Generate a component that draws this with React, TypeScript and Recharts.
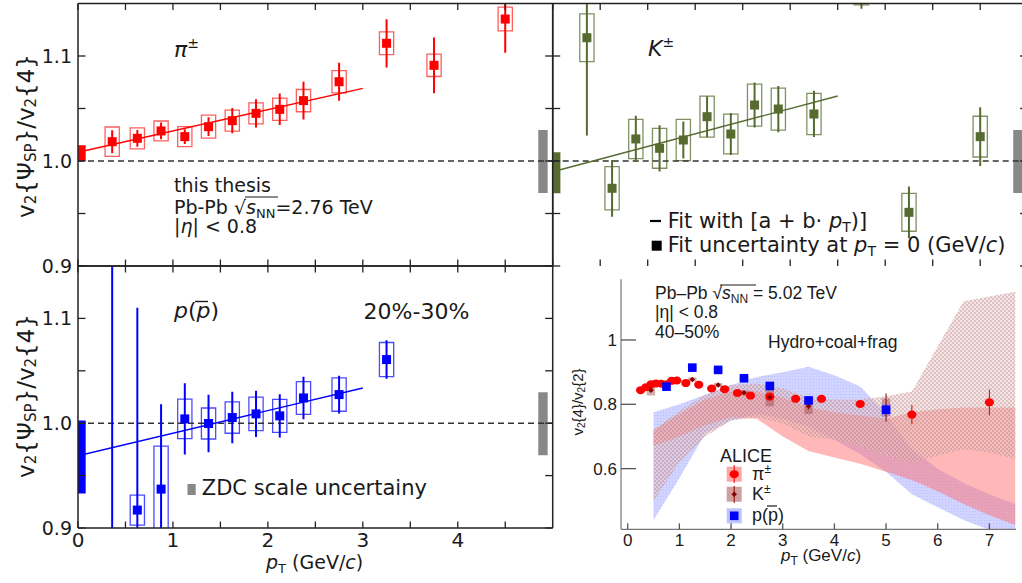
import React from 'react';
import {
  Area,
  ComposedChart,
  ErrorBar,
  Line,
  ReferenceArea,
  ReferenceLine,
  Scatter,
  XAxis,
  YAxis,
} from 'recharts';

const SANS = '"DejaVu Sans", sans-serif';
const HELV = '"Liberation Sans", Arial, sans-serif';
const INK = '#1a1a1a';

// ---- this thesis: Pb-Pb 2.76 TeV, 20-30%, v2{SP}/v2{4} ----
const ptBins = [0.36, 0.625, 0.875, 1.125, 1.375, 1.625, 1.875, 2.125, 2.375, 2.75, 3.25, 3.75, 4.5];
const piRatio = [1.0184, 1.0216, 1.0286, 1.0232, 1.0327, 1.0384, 1.0454, 1.0492, 1.0575, 1.0755, 1.1121, 1.0911, 1.1352];
const piStat = [0.011, 0.008, 0.008, 0.007, 0.009, 0.012, 0.0135, 0.015, 0.018, 0.018, 0.023, 0.0265, 0.032];
const piSys = [0.014, 0.01, 0.0095, 0.0095, 0.011, 0.01, 0.01, 0.0106, 0.0106, 0.0106, 0.0108, 0.0106, 0.0113];

const kRatio = [1.1174, 0.974, 1.021, 1.0121, 1.02, 1.0422, 1.0257, 1.0533, 1.0495, 1.0448, 1.169, 0.9511, 1.0232];
const kStat = [0.093, 0.027, 0.022, 0.022, 0.0176, 0.0195, 0.02, 0.0214, 0.022, 0.022, 0.024, 0.0246, 0.028];
const kSys = [0.0227, 0.0206, 0.0187, 0.019, 0.0197, 0.0195, 0.019, 0.02, 0.02, 0.0197, 0.0204, 0.018, 0.0194];

const pBins = [0.36, 0.625, 0.875, 1.125, 1.375, 1.625, 1.875, 2.125, 2.375, 2.75, 3.25];
const pRatio = [0.86, 0.9171, 0.9371, 1.0041, 0.9997, 1.0054, 1.0089, 1.007, 1.0241, 1.0273, 1.0607];
const pStat = [0.32, 0.193, 0.081, 0.034, 0.0275, 0.0246, 0.022, 0.0206, 0.0203, 0.018, 0.0184];
const pSys = [0, 0.0143, 0.041, 0.0189, 0.0148, 0.015, 0.016, 0.0157, 0.0156, 0.0159, 0.0163];

// linear fits a + b*pT, drawn 0..3 GeV/c
const fitPt = [0, 3];
const piFit = [1.0083, 1.0692];
const kFit = [0.9898, 1.0619];
const pFit = [0.9689, 1.0336];
const piFitUnc = [1.0, 1.015];
const kFitUnc = [0.9692, 1.0083];
const pFitUnc = [0.933, 1.0026];
const zdcUnc = [0.9695, 1.0295];

const ratioTicks = [0.9, 0.95, 1.0, 1.05, 1.1];
const ratioLabels = ['0.9', '', '1.0', '', '1.1'];
const ptTicks = [0, 0.5, 1, 1.5, 2, 2.5, 3, 3.5, 4, 4.5];
const ptLabels = ['0', '', '1', '', '2', '', '3', '', '4', ''];

// ---- ALICE inset: Pb-Pb 5.02 TeV, 40-50%, v2{4}/v2{2} ----
const alicePiPt = [0.25, 0.35, 0.45, 0.55, 0.65, 0.75, 0.85, 0.95, 1.125, 1.375, 1.625, 1.875, 2.125, 2.375, 2.75, 3.25, 3.75, 4.5, 5.5, 7.0];
const alicePi = [0.844, 0.853, 0.862, 0.865, 0.864, 0.862, 0.873, 0.874, 0.866, 0.861, 0.849, 0.847, 0.835, 0.827, 0.824, 0.817, 0.817, 0.801, 0.768, 0.806];
const alicePiErr = [0.002, 0.002, 0.002, 0.002, 0.002, 0.002, 0.002, 0.002, 0.002, 0.003, 0.003, 0.003, 0.003, 0.004, 0.004, 0.005, 0.006, 0.008, 0.03, 0.04];

const aliceKPt = [0.45, 1.25, 1.75, 2.25, 2.75, 3.5, 5.0];
const aliceK = [0.844, 0.877, 0.86, 0.836, 0.822, 0.794, 0.79];
const aliceKErr = [0.003, 0.004, 0.004, 0.004, 0.006, 0.01, 0.044];
const aliceKSys = [0.017, 0.006, 0.006, 0.008, 0.028, 0.024, 0.028];

const alicePPt = [0.75, 1.25, 1.75, 2.25, 2.75, 3.5, 5.0];
const aliceP = [0.855, 0.914, 0.907, 0.881, 0.857, 0.812, 0.783];
const alicePSys = [0.014, 0.005, 0.005, 0.005, 0.006, 0.008, 0.02];

// Hydro+coal+frag bands
const hydroPt = [0.5, 1.0, 1.5, 2.0, 2.5, 3.0, 3.5, 4.0, 4.5, 5.0, 5.5, 6.0, 6.5, 7.0, 7.5];
const hydroPiLo = [0.67, 0.7, 0.735, 0.76, 0.755, 0.7, 0.655, 0.635, 0.615, 0.59, 0.565, 0.53, 0.49, 0.455, 0.425];
const hydroPiHi = [0.72, 0.77, 0.815, 0.84, 0.84, 0.82, 0.79, 0.775, 0.765, 0.755, 0.775, 0.785, 0.79, 0.79, 0.79];
const hydroKLo = [0.5, 0.62, 0.7, 0.75, 0.76, 0.74, 0.7, 0.69, 0.67, 0.64, 0.62, 0.64, 0.66, 0.65, 0.63];
const hydroKHi = [0.72, 0.78, 0.83, 0.86, 0.865, 0.85, 0.82, 0.815, 0.815, 0.825, 0.84, 0.98, 1.12, 1.135, 1.15];
const hydroPLo = [0.44, 0.57, 0.71, 0.75, 0.77, 0.755, 0.73, 0.69, 0.645, 0.59, 0.52, 0.48, 0.44, 0.41, 0.38];
const hydroPHi = [0.775, 0.8, 0.83, 0.86, 0.885, 0.9, 0.917, 0.89, 0.855, 0.77, 0.66, 0.6, 0.555, 0.52, 0.49];

const alicePtTicks = [0, 1, 2, 3, 4, 5, 6, 7];
const alicePtLabels = ['0', '1', '2', '3', '4', '5', '6', '7'];
const aliceYTicks = [0.6, 0.8, 1];
const aliceYLabels = ['0.6', '0.8', '1'];

type TickCfg = {
  values: number[];
  labels?: string[];
  len: number;
  size?: number;
  font?: string;
  gap?: number;
  color?: string;
};

const findLabel = (c: TickCfg, v: number) => {
  if (!c.labels) return '';
  const i = c.values.findIndex((t) => Math.abs(t - v) < 1e-6);
  return i < 0 ? '' : c.labels[i];
};

const yTick = (side: 'left' | 'right', c: TickCfg) => (props: any) => {
  const { x, y, payload } = props;
  const d = side === 'left' ? 1 : -1;
  const label = findLabel(c, payload.value);
  return (
    <g>
      <line x1={x} x2={x + d * c.len} y1={y} y2={y} stroke={c.color ?? '#222'} strokeWidth={1.3} />
      {label ? (
        <text x={x - (c.gap ?? 6)} y={y} dy="0.36em" textAnchor="end" fontFamily={c.font} fontSize={c.size} fill={INK}>
          {label}
        </text>
      ) : null}
    </g>
  );
};

const xTick = (side: 'bottom' | 'top', c: TickCfg) => (props: any) => {
  const { x, y, payload } = props;
  const d = side === 'bottom' ? -1 : 1;
  const label = findLabel(c, payload.value);
  return (
    <g>
      <line x1={x} x2={x} y1={y} y2={y + d * c.len} stroke={c.color ?? '#222'} strokeWidth={1.3} />
      {label ? (
        <text x={x} y={y + (c.gap ?? 18)} textAnchor="middle" fontFamily={c.font} fontSize={c.size} fill={INK}>
          {label}
        </text>
      ) : null}
    </g>
  );
};

const FRAME = { stroke: '#222', strokeWidth: 1.5 };

type PanelProps = {
  left: number;
  top: number;
  width: number;
  height: number;
  leftW: number;
  rightW: number;
  topH: number;
  bottomH: number;
  color: string;
  boxColor: string;
  pts: number[];
  vals: number[];
  stat: number[];
  sys: number[];
  fit: number[];
  fitUnc: number[];
  yLabels: boolean;
  xLabels: boolean;
  bottomLine: boolean;
};

function RatioPanel(p: PanelProps) {
  const points = p.pts.map((x, i) => ({ x, y: p.vals[i] }));
  const fitData = fitPt.map((x, i) => ({ x, y: p.fit[i] }));
  return (
    <div style={{ position: 'absolute', left: p.left, top: p.top }}>
      <ComposedChart width={p.width} height={p.height} margin={{ top: 0, right: 0, bottom: 0, left: 0 }}>
        <XAxis
          type="number"
          dataKey="x"
          domain={[0, 5]}
          allowDataOverflow
          ticks={ptTicks}
          interval={0}
          height={p.bottomH}
          tickSize={0}
          tickMargin={0}
          axisLine={p.bottomLine ? FRAME : false}
          tick={xTick('bottom', { values: ptTicks, labels: p.xLabels ? ptLabels : undefined, len: 6.5, size: 20, font: SANS, gap: 19 })}
        />
        <XAxis
          xAxisId="t"
          orientation="top"
          type="number"
          dataKey="x"
          domain={[0, 5]}
          allowDataOverflow
          ticks={ptTicks}
          interval={0}
          height={p.topH}
          tickSize={0}
          tickMargin={0}
          axisLine={FRAME}
          tick={xTick('top', { values: ptTicks, len: 6.5 })}
        />
        <YAxis
          type="number"
          domain={[0.9, 1.15]}
          allowDataOverflow
          ticks={ratioTicks}
          interval={0}
          width={p.leftW}
          tickSize={0}
          tickMargin={0}
          axisLine={FRAME}
          tick={yTick('left', { values: ratioTicks, labels: p.yLabels ? ratioLabels : undefined, len: 7.5, size: 19, font: SANS, gap: 6 })}
        />
        <YAxis
          yAxisId="r"
          orientation="right"
          type="number"
          domain={[0.9, 1.15]}
          allowDataOverflow
          ticks={ratioTicks}
          interval={0}
          width={p.rightW}
          tickSize={0}
          tickMargin={0}
          axisLine={FRAME}
          tick={yTick('right', { values: ratioTicks, len: 7.5 })}
        />
        <ReferenceLine y={1} stroke="#333" strokeDasharray="6 4" strokeWidth={1.5} />
        <ReferenceArea x1={0} x2={0.081} y1={p.fitUnc[0]} y2={p.fitUnc[1]} fill={p.color} fillOpacity={1} stroke="none" ifOverflow="hidden" />
        <ReferenceArea x1={4.848} x2={4.947} y1={zdcUnc[0]} y2={zdcUnc[1]} fill="#888" fillOpacity={1} stroke="none" ifOverflow="hidden" />
        {p.pts.map((x, i) =>
          p.sys[i] > 0 ? (
            <ReferenceArea
              key={`box-${i}`}
              x1={x - 0.075}
              x2={x + 0.075}
              y1={p.vals[i] - p.sys[i]}
              y2={p.vals[i] + p.sys[i]}
              fill="none"
              stroke={p.boxColor}
              strokeWidth={1.3}
              ifOverflow="hidden"
            />
          ) : null,
        )}
        {/* statistical errors, clipped to the plot area */}
        {p.pts.map((x, i) => (
          <ReferenceLine
            key={`err-${i}`}
            segment={[
              { x, y: p.vals[i] - p.stat[i] },
              { x, y: p.vals[i] + p.stat[i] },
            ]}
            stroke={p.color}
            strokeWidth={2}
            ifOverflow="hidden"
          />
        ))}
        <Line data={fitData} dataKey="y" type="linear" stroke={p.color} strokeWidth={1.4} dot={false} isAnimationActive={false} />
        <Scatter
          data={points}
          dataKey="y"
          isAnimationActive={false}
          shape={(s: any) => <rect x={s.cx - 4.5} y={s.cy - 4.5} width={9} height={9} fill={p.color} />}
        />
      </ComposedChart>
    </div>
  );
}

function AliceInset() {
  const rows = hydroPt.map((x, i) => ({
    x,
    pi: [hydroPiLo[i], hydroPiHi[i]],
    k: [hydroKLo[i], hydroKHi[i]],
    p: [hydroPLo[i], hydroPHi[i]],
  }));
  const pions = alicePiPt.map((x, i) => ({ x, y: alicePi[i], err: alicePiErr[i] }));
  const kaons = aliceKPt.map((x, i) => ({ x, y: aliceK[i], err: aliceKErr[i] }));
  const protons = alicePPt.map((x, i) => ({ x, y: aliceP[i] }));
  const xDom: [number, number] = [-0.13, 7.515];
  const yDom: [number, number] = [0.4114, 1.1886];
  const thin = { stroke: '#777', strokeWidth: 1.2 };
  return (
    <div style={{ position: 'absolute', left: 560, top: 270, background: '#fff' }}>
      <ComposedChart width={462} height={313} data={rows} margin={{ top: 9.3, right: 6, bottom: 0, left: 0 }}>
        <defs>
          <pattern id="kaonHatch" width="4" height="4" patternUnits="userSpaceOnUse">
            <rect width="4" height="4" fill="#e7c9c9" fillOpacity="0.45" />
            <circle cx="1" cy="1" r="0.8" fill="#a04c4c" fillOpacity="0.55" />
            <circle cx="3" cy="3" r="0.8" fill="#a04c4c" fillOpacity="0.55" />
          </pattern>
          <pattern id="protonDots" width="3" height="3" patternUnits="userSpaceOnUse">
            <rect width="3" height="3" fill="#aab0ff" fillOpacity="0.55" />
            <circle cx="1.5" cy="1.5" r="0.6" fill="#7a80ff" fillOpacity="0.3" />
          </pattern>
        </defs>
        <XAxis
          type="number"
          dataKey="x"
          domain={xDom}
          allowDataOverflow
          ticks={alicePtTicks}
          interval={0}
          height={53.7}
          tickSize={0}
          tickMargin={0}
          axisLine={thin}
          tick={xTick('bottom', { values: alicePtTicks, labels: alicePtLabels, len: 6, size: 17, font: HELV, gap: 17, color: '#555' })}
        />
        <XAxis xAxisId="t" orientation="top" type="number" dataKey="x" domain={xDom} allowDataOverflow height={0} tick={false} axisLine={{ stroke: '#999', strokeWidth: 1 }} />
        <YAxis
          type="number"
          domain={yDom}
          allowDataOverflow
          ticks={aliceYTicks}
          interval={0}
          width={61}
          tickSize={0}
          tickMargin={0}
          axisLine={thin}
          tick={yTick('left', { values: aliceYTicks, labels: aliceYLabels, len: 15, size: 17, font: HELV, gap: 4, color: '#555' })}
        />
        <YAxis yAxisId="r" orientation="right" type="number" domain={yDom} allowDataOverflow width={0} tick={false} axisLine={{ stroke: '#999', strokeWidth: 1 }} />
        <Area type="linear" dataKey="p" stroke="none" fill="url(#protonDots)" fillOpacity={1} isAnimationActive={false} />
        <Area type="linear" dataKey="pi" stroke="none" fill="#ff7070" fillOpacity={0.5} isAnimationActive={false} />
        <Area type="linear" dataKey="k" stroke="none" fill="url(#kaonHatch)" fillOpacity={1} isAnimationActive={false} />
        {aliceKPt.map((x, i) => (
          <ReferenceArea key={`ks-${i}`} x1={x - 0.08} x2={x + 0.08} y1={aliceK[i] - aliceKSys[i]} y2={aliceK[i] + aliceKSys[i]} fill="#a04848" fillOpacity={0.45} stroke="none" ifOverflow="hidden" />
        ))}
        {alicePPt.map((x, i) => (
          <ReferenceArea key={`ps-${i}`} x1={x - 0.09} x2={x + 0.09} y1={aliceP[i] - alicePSys[i]} y2={aliceP[i] + alicePSys[i]} fill="#7f86ff" fillOpacity={0.4} stroke="none" ifOverflow="hidden" />
        ))}
        <Scatter
          data={pions}
          dataKey="y"
          isAnimationActive={false}
          shape={(s: any) => <ellipse cx={s.cx} cy={s.cy} rx={4.6} ry={4} fill="#ff0000" />}
        >
          <ErrorBar dataKey="err" direction="y" width={0} stroke="#e00000" strokeWidth={1} />
        </Scatter>
        <Scatter
          data={kaons}
          dataKey="y"
          isAnimationActive={false}
          shape={(s: any) => (
            <path d={`M${s.cx},${s.cy - 2.8}L${s.cx + 2.8},${s.cy}L${s.cx},${s.cy + 2.8}L${s.cx - 2.8},${s.cy}Z`} fill="#8b0000" />
          )}
        >
          <ErrorBar dataKey="err" direction="y" width={0} stroke="#8b0000" strokeWidth={1} />
        </Scatter>
        <Scatter
          data={protons}
          dataKey="y"
          isAnimationActive={false}
          shape={(s: any) => <rect x={s.cx - 4.3} y={s.cy - 4.3} width={8.6} height={8.6} fill="#0000ff" />}
        />
      </ComposedChart>
    </div>
  );
}

function RatioTitle({ cy }: { cy: number }) {
  return (
    <text transform={`translate(26,${cy}) rotate(-90)`} textAnchor="middle" dominantBaseline="central" fontFamily={SANS} fontSize={23} fill={INK}>
      v<tspan fontSize={15} dy={5}>2</tspan>
      <tspan dy={-5}>{'{'}Ψ</tspan>
      <tspan fontSize={15} dy={5}>SP</tspan>
      <tspan dy={-5}>{'}'}/v</tspan>
      <tspan fontSize={15} dy={5}>2</tspan>
      <tspan dy={-5}>{'{'}4{'}'}</tspan>
    </text>
  );
}

function Overlay() {
  return (
    <svg width={1022} height={583} style={{ position: 'absolute', left: 0, top: 0, pointerEvents: 'none' }}>
      <RatioTitle cy={136} />
      <RatioTitle cy={396} />

      {/* pions panel */}
      <text x={174} y={57} fontFamily={SANS} fontSize={22} fill={INK}>
        <tspan fontStyle="italic">π</tspan>
        <tspan fontSize={14} dy={-9}>±</tspan>
      </text>
      <g fontFamily={SANS} fontSize={19} fill={INK}>
        <text x={174} y={192}>this thesis</text>
        <text x={174} y={214}>
          Pb-Pb √<tspan fontStyle="italic">s</tspan>
          <tspan fontSize={13} dy={4}>NN</tspan>
          <tspan dy={-4}>=2.76 TeV</tspan>
        </text>
        <text x={174} y={233}>
          |<tspan fontStyle="italic">η</tspan>| &lt; 0.8
        </text>
      </g>
      <line x1={245} x2={278} y1={197} y2={197} stroke={INK} strokeWidth={1.2} />

      {/* kaons panel */}
      <text x={648} y={56} fontFamily={SANS} fontSize={22} fill={INK}>
        <tspan fontStyle="italic">K</tspan>
        <tspan fontSize={14} dy={-9}>±</tspan>
      </text>
      <line x1={650} x2={661} y1={221} y2={221} stroke="#000" strokeWidth={2.2} />
      <rect x={651.7} y={240.7} width={10} height={10} fill="#000" />
      <g fontFamily={SANS} fontSize={21} fill={INK}>
        <text x={667.7} y={228}>
          Fit with [a + b· <tspan fontStyle="italic">p</tspan>
          <tspan fontSize={14} dy={4}>T</tspan>
          <tspan dy={-4}>)]</tspan>
        </text>
        <text x={667.7} y={252}>
          Fit uncertainty at <tspan fontStyle="italic">p</tspan>
          <tspan fontSize={14} dy={4}>T</tspan>
          <tspan dy={-4}> = 0 (GeV/</tspan>
          <tspan fontStyle="italic">c</tspan>)
        </text>
      </g>

      {/* protons panel */}
      <text x={174} y={318} fontFamily={SANS} fontSize={22} fill={INK}>
        <tspan fontStyle="italic">p</tspan>(<tspan fontStyle="italic">p</tspan>)
      </text>
      <line x1={195} x2={208} y1={301.5} y2={301.5} stroke={INK} strokeWidth={1.4} />
      <text x={363.6} y={319} fontFamily={SANS} fontSize={22} fill={INK}>
        20%-30%
      </text>
      <rect x={187.5} y={484} width={8.2} height={11} fill="#888" />
      <text x={201.8} y={495} fontFamily={SANS} fontSize={21} fill={INK}>
        ZDC scale uncertainy
      </text>
      <text x={266} y={569} fontFamily={SANS} fontSize={19} fill={INK}>
        <tspan fontStyle="italic">p</tspan>
        <tspan fontSize={13} dy={4}>T</tspan>
        <tspan dy={-4}> (GeV/</tspan>
        <tspan fontStyle="italic">c</tspan>)
      </text>

      {/* ALICE inset texts */}
      <g fontFamily={HELV} fill={INK}>
        <text x={655} y={299} fontSize={17.5}>
          Pb–Pb √<tspan fontStyle="italic">s</tspan>
          <tspan fontSize={12} dy={4}>NN</tspan>
          <tspan dy={-4}> = 5.02 TeV</tspan>
        </text>
        <text x={655} y={318} fontSize={17.5}>
          |η| &lt; 0.8
        </text>
        <text x={655} y={338} fontSize={17.5}>
          40–50%
        </text>
        <text x={768} y={348} fontSize={17.5}>
          Hydro+coal+frag
        </text>
        <text transform="translate(577,402) rotate(-90)" textAnchor="middle" dominantBaseline="central" fontSize={15}>
          v<tspan fontSize={10} dy={4}>2</tspan>
          <tspan dy={-4}>{'{'}4{'}'}/v</tspan>
          <tspan fontSize={10} dy={4}>2</tspan>
          <tspan dy={-4}>{'{'}2{'}'}</tspan>
        </text>
        <text x={821} y={561} textAnchor="middle" fontSize={17}>
          <tspan fontStyle="italic">p</tspan>
          <tspan fontSize={12} dy={4}>T</tspan>
          <tspan dy={-4}> (GeV/</tspan>
          <tspan fontStyle="italic">c</tspan>)
        </text>
        <text x={720} y={461.5} fontSize={18}>
          ALICE
        </text>
        <text x={752} y={480} fontSize={18}>
          π<tspan fontSize={12} dy={-7}>±</tspan>
        </text>
        <text x={752} y={500} fontSize={18}>
          K<tspan fontSize={12} dy={-7}>±</tspan>
        </text>
        <text x={752} y={521} fontSize={18}>
          p(p)
        </text>
      </g>
      <line x1={720} x2={756} y1={285} y2={285} stroke={INK} strokeWidth={1} />
      <line x1={767} x2={777} y1={506} y2={506} stroke={INK} strokeWidth={1.2} />

      {/* ALICE legend swatches */}
      <rect x={726.7} y={466.7} width={15} height={15} fill="#ff8080" fillOpacity={0.7} />
      <line x1={734.2} x2={734.2} y1={465} y2={483} stroke="#e00000" strokeWidth={1} />
      <ellipse cx={734.2} cy={474.2} rx={4.6} ry={4} fill="#ff0000" />
      <rect x={726.7} y={486.7} width={15} height={15} fill="#b06060" fillOpacity={0.6} />
      <line x1={734.2} x2={734.2} y1={486} y2={503} stroke="#8b0000" strokeWidth={1} />
      <path d="M734.2,491.4L737,494.2L734.2,497L731.4,494.2Z" fill="#8b0000" />
      <rect x={726.7} y={508.3} width={15} height={15} fill="#8088ff" fillOpacity={0.5} />
      <rect x={729.9} y={511.5} width={8.6} height={8.6} fill="#0000ff" />
    </svg>
  );
}

export default function App() {
  return (
    <div style={{ position: 'fixed', left: 0, top: 0, width: 1022, height: 583, overflow: 'hidden', background: '#fff' }}>
      <RatioPanel
        left={0}
        top={262}
        width={560}
        height={321}
        leftW={78}
        rightW={7.3}
        topH={4}
        bottomH={55}
        color="#0000ff"
        boxColor="rgba(30,30,255,0.8)"
        pts={pBins}
        vals={pRatio}
        stat={pStat}
        sys={pSys}
        fit={pFit}
        fitUnc={pFitUnc}
        yLabels
        xLabels
        bottomLine
      />
      <RatioPanel
        left={0}
        top={0}
        width={560}
        height={280}
        leftW={78}
        rightW={7.3}
        topH={3.5}
        bottomH={14}
        color="#ff0000"
        boxColor="rgba(255,40,40,0.75)"
        pts={ptBins}
        vals={piRatio}
        stat={piStat}
        sys={piSys}
        fit={piFit}
        fitUnc={piFitUnc}
        yLabels
        xLabels={false}
        bottomLine
      />
      <RatioPanel
        left={540}
        top={0}
        width={500}
        height={270}
        leftW={12.7}
        rightW={12.3}
        topH={3.5}
        bottomH={4}
        color="#556b2f"
        boxColor="rgba(85,107,47,0.75)"
        pts={ptBins}
        vals={kRatio}
        stat={kStat}
        sys={kSys}
        fit={kFit}
        fitUnc={kFitUnc}
        yLabels={false}
        xLabels={false}
        bottomLine={false}
      />
      <AliceInset />
      <Overlay />
    </div>
  );
}
